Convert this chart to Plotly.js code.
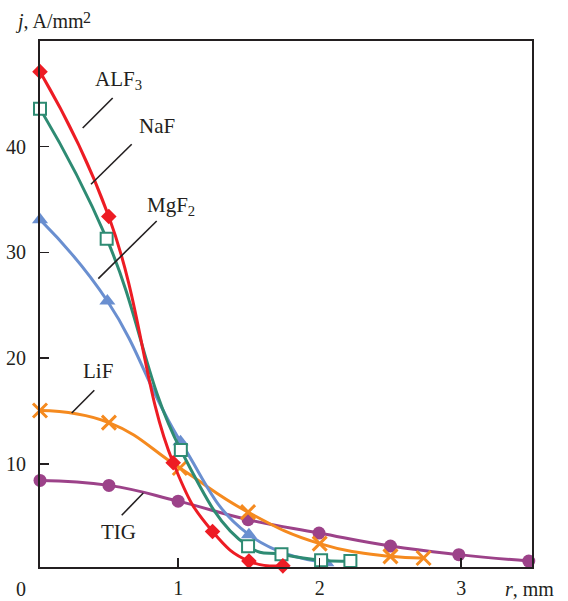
<!DOCTYPE html>
<html>
<head>
<meta charset="utf-8">
<script src="https://cdn.plot.ly/plotly-3.0.1.min.js"></script>
<style>html,body{margin:0;padding:0;background:#fff;}#chart{width:568px;height:601px;}</style>
</head>
<body>
<div id="chart"></div>
<script>
// Data (r in mm, j in A/mm^2)
const alf3R = [0.024, 0.51, 0.965, 1.243, 1.50, 1.74];
const alf3J = [47.1, 33.4, 10.1, 3.6, 0.8, 0.35];
const nafR = [0.024, 0.495, 1.019, 1.494, 1.73, 2.01, 2.217];
const nafJ = [43.6, 31.3, 11.3, 2.2, 1.44, 0.87, 0.8];
const mgf2R = [0.024, 0.50, 1.017, 1.50, 2.047];
const mgf2J = [33.1, 25.4, 12.1, 3.3, 0.65];
const lifR = [0.024, 0.511, 1.012, 1.494, 2.0, 2.5, 2.734];
const lifJ = [15.05, 13.9, 9.6, 5.43, 2.45, 1.25, 1.09];
const tigR = [0.024, 0.511, 1.0, 1.494, 1.995, 2.5, 2.983, 3.477];
const tigJ = [8.43, 7.96, 6.47, 4.72, 3.45, 2.22, 1.41, 0.8];
const xTicks = [1, 2, 3];
const yTicks = [10, 20, 30, 40];

const FONT = '"Liberation Serif", "Times New Roman", serif';
const INK = '#231f20';

// plot area in pixels: left 40, right 532, top 40.7, bottom 566.7
const P = px => (px - 40) / 492;
const Q = py => (566.7 - py) / 526;

function tr(x, y, color, marker) {
  return {
    x: x, y: y, type: 'scatter', mode: 'lines+markers', cliponaxis: false,
    line: {color: color, width: 3, shape: 'spline', smoothing: 1.3},
    marker: marker,
    hoverinfo: 'skip'
  };
}

const data = [
  tr(tigR, tigJ, '#9c4289', {symbol: 'circle', size: 13, color: '#9c4289'}),
  tr(lifR, lifJ, '#f58a1f', {symbol: 'x-thin', size: 14, line: {color: '#f58a1f', width: 3}}),
  tr(mgf2R, mgf2J, '#6a8fd0', {symbol: 'triangle-up', size: 14, color: '#6a8fd0'}),
  tr(nafR, nafJ, '#2e8b73', {symbol: 'square', size: 12, color: '#ffffff', line: {color: '#2e8b73', width: 2}}),
  tr(alf3R, alf3J, '#ed1c24', {symbol: 'diamond', size: 12, color: '#ed1c24'})
];

function lab(text, px, py, size) {
  return {text: text, xref: 'paper', yref: 'paper', x: P(px), y: Q(py),
    xanchor: 'left', yanchor: 'middle', showarrow: false,
    font: {family: FONT, size: size || 21, color: INK}};
}

const annotations = [
  lab('ALF<sub>3</sub>', 93, 80, 21),
  lab('NaF', 137, 126, 21),
  lab('MgF<sub>2</sub>', 145, 206, 21),
  lab('LiF', 81, 371, 21),
  lab('TIG', 99, 532, 21),
  lab('<i>j</i>, A/mm', 13, 21, 20),
  lab('2', 81, 17, 16),
  lab('<i>r</i>, mm', 503, 589, 20),
  {text: '0', xref: 'paper', yref: 'paper', x: P(20.7), y: Q(589), xanchor: 'center', yanchor: 'middle',
   showarrow: false, font: {family: FONT, size: 20, color: INK}}
];

function seg(x0, y0, x1, y1) {
  return {type: 'line', xref: 'paper', yref: 'paper', x0: P(x0), y0: Q(y0), x1: P(x1), y1: Q(y1),
    line: {color: INK, width: 1.6}};
}
const shapes = [
  seg(112.7, 97.7, 82.7, 127.7),
  seg(131.7, 144, 91, 184),
  seg(156.7, 220.7, 98.3, 278.3),
  seg(94.3, 390, 71.7, 412.7),
  seg(143.3, 492.7, 121.7, 515)
];

const layout = {
  width: 568, height: 601,
  margin: {l: 40, r: 36, t: 40.7, b: 34.3, pad: 0},
  paper_bgcolor: '#ffffff', plot_bgcolor: '#ffffff',
  showlegend: false,
  font: {family: FONT, size: 20, color: INK},
  xaxis: {range: [0.024, 3.5], tickvals: xTicks, ticktext: xTicks.map(String),
    ticks: 'inside', ticklen: 9, tickwidth: 1.5, tickcolor: INK,
    showline: true, linecolor: INK, linewidth: 2, mirror: true,
    showgrid: false, zeroline: false, ticklabelstandoff: 2,
    tickfont: {family: FONT, size: 20, color: INK}},
  yaxis: {range: [0.24, 50], tickvals: yTicks, ticktext: yTicks.map(String),
    ticks: 'inside', ticklen: 9, tickwidth: 1.5, tickcolor: INK,
    showline: true, linecolor: INK, linewidth: 2, mirror: true,
    showgrid: false, zeroline: false, ticklabelstandoff: 8,
    tickfont: {family: FONT, size: 20, color: INK}},
  annotations: annotations,
  shapes: shapes
};

Plotly.newPlot('chart', data, layout, {displayModeBar: false, staticPlot: true});
</script>
</body>
</html>
